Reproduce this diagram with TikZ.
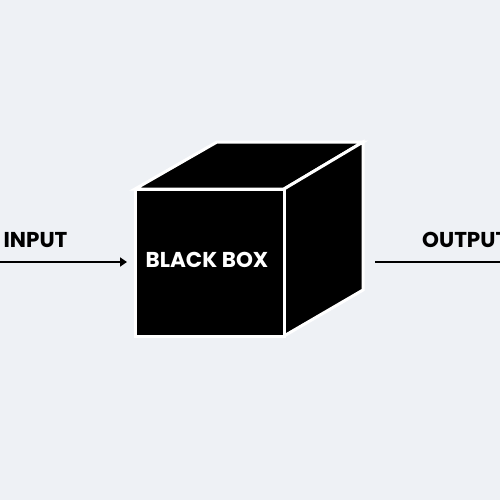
\documentclass[tikz,border=0pt]{standalone}
\usepackage{fontspec}
\setmainfont{Poppins}[UprightFont=* Bold,BoldFont=* Bold]
\usetikzlibrary{arrows.meta}
\definecolor{bg}{HTML}{EEF1F5}
\tikzset{
  lbl/.style={font=\fontsize{21.5}{24}\selectfont\bfseries, inner sep=0pt},
  face/.style={fill=black, draw=white, line width=3pt, line join=miter},
  flow/.style={line width=2.2pt, draw=black},
}
\begin{document}
\begin{tikzpicture}[x=1pt,y=-1pt]
\useasboundingbox (0,0) rectangle (500,500);
\clip (0,0) rectangle (500,500);
\fill[bg] (0,0) rectangle (500,500);
% cube
\coordinate (fa) at (135,189);
\coordinate (fb) at (284,189);
\coordinate (fc) at (284,336);
\coordinate (fd) at (135,336);
\coordinate (ba) at (217,142);
\coordinate (bb) at (363,142);
\coordinate (bc) at (363,290);
\draw[face] (fa) -- (ba) -- (bb) -- (fb) -- cycle;
\draw[face] (fb) -- (bb) -- (bc) -- (fc) -- cycle;
\draw[face] (fa) -- (fb) -- (fc) -- (fd) -- cycle;
\node[lbl, text=white] (box) at (207,260) {BLACK BOX};
% input
\node[lbl] (in) at (35.5,240) {INPUT};
\coordinate (inS) at (-5,262);
\coordinate (inE) at (127,262);
\draw[flow, -{Triangle[length=7pt,width=9pt]}] (inS) -- (inE);
% output
\node[lbl, anchor=west] (out) at (422,240) {OUTPUT};
\coordinate (outS) at (375,262);
\coordinate (outE) at (505,262);
\draw[flow] (outS) -- (outE);
\end{tikzpicture}
\end{document}
